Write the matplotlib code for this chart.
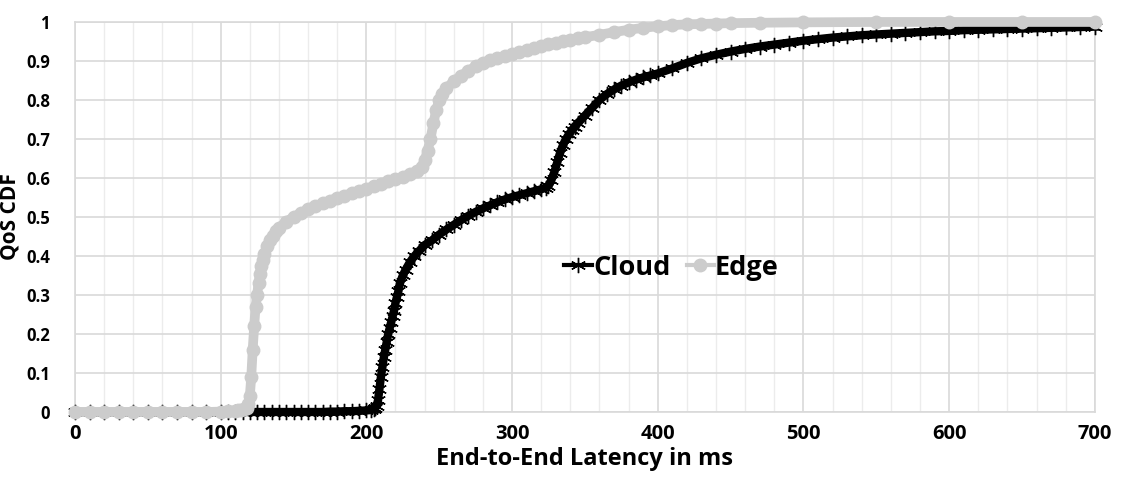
import matplotlib.pyplot as plt
from matplotlib.ticker import MultipleLocator

plt.rcParams['font.family'] = ['Open Sans', 'DejaVu Sans']
plt.rcParams['font.weight'] = 'bold'

# Cloud CDF (latency ms, cdf)
cloud_x = [0, 10, 20, 30, 40, 50, 60, 70, 80, 90, 100, 105, 110, 115, 120, 125, 130, 135, 140, 145,
           150, 155, 160, 165, 170, 175, 180, 185, 190, 195, 200, 203, 205, 206, 207, 208, 209, 210,
           211, 212, 213, 214, 215, 216, 217, 218, 219, 220, 221, 222, 223, 225, 227, 230, 233, 236,
           240, 245, 250, 255, 260, 265, 270, 275, 280, 285, 290, 295, 300, 305, 310, 315, 320, 323,
           325, 327, 329, 331, 333, 335, 337, 339, 341, 343, 345, 350, 355, 360, 365, 370, 375, 380,
           385, 390, 395, 400, 410, 420, 430, 440, 450, 460, 470, 480, 490, 500, 510, 520, 530, 540,
           550, 560, 570, 580, 590, 600, 610, 620, 630, 640, 650, 660, 670, 680, 690, 700]
cloud_y = [0, 0, 0, 0, 0, 0, 0, 0, 0, 0, 0, 0, 0, 0, 0, 0, 0, 0, 0, 0,
           0, 0, 0, 0, 0, 0.001, 0.001, 0.002, 0.002, 0.003, 0.004, 0.005, 0.007, 0.01, 0.015, 0.03, 0.06, 0.09,
           0.115, 0.14, 0.16, 0.18, 0.2, 0.215, 0.23, 0.245, 0.26, 0.28, 0.295, 0.31, 0.33, 0.35, 0.365, 0.385, 0.4, 0.412,
           0.428, 0.44, 0.455, 0.468, 0.48, 0.492, 0.503, 0.513, 0.522, 0.53, 0.538, 0.545, 0.551, 0.556, 0.561, 0.566, 0.571, 0.575,
           0.58, 0.595, 0.615, 0.64, 0.665, 0.685, 0.7, 0.712, 0.722, 0.731, 0.74, 0.76, 0.78, 0.8, 0.815, 0.827, 0.837, 0.845,
           0.852, 0.858, 0.863, 0.868, 0.881, 0.895, 0.907, 0.916, 0.924, 0.931, 0.937, 0.942, 0.947, 0.952, 0.956, 0.96, 0.963, 0.966,
           0.968, 0.97, 0.972, 0.974, 0.976, 0.977, 0.979, 0.98, 0.981, 0.982, 0.983, 0.984, 0.985, 0.986, 0.987, 0.988]

# Edge CDF
edge_x = [0, 10, 20, 30, 40, 50, 60, 70, 80, 90, 100, 105, 110, 112, 114, 116, 118, 119, 120, 121,
          122, 123, 124, 125, 126, 127, 128, 129, 130, 132, 134, 136, 138, 140, 145, 150, 155, 160, 165, 170,
          175, 180, 185, 190, 195, 200, 205, 210, 215, 220, 225, 230, 235, 238, 240, 242, 244, 246, 248, 250,
          252, 255, 260, 265, 270, 275, 280, 285, 290, 295, 300, 305, 310, 315, 320, 325, 330, 335, 340, 345,
          350, 360, 370, 380, 390, 400, 410, 420, 430, 440, 450, 470, 500, 550, 600, 650, 700]
edge_y = [0, 0, 0, 0, 0, 0, 0, 0, 0, 0, 0.001, 0.002, 0.003, 0.004, 0.005, 0.007, 0.01, 0.02, 0.04, 0.09,
          0.16, 0.22, 0.27, 0.3, 0.33, 0.355, 0.375, 0.39, 0.405, 0.425, 0.44, 0.452, 0.463, 0.472, 0.488, 0.5, 0.51, 0.52, 0.528, 0.535,
          0.542, 0.549, 0.555, 0.561, 0.567, 0.573, 0.579, 0.585, 0.591, 0.597, 0.603, 0.61, 0.618, 0.628, 0.645, 0.67, 0.7, 0.74, 0.775, 0.8,
          0.815, 0.83, 0.848, 0.862, 0.875, 0.886, 0.895, 0.902, 0.908, 0.913, 0.918, 0.923, 0.928, 0.933, 0.938, 0.943, 0.947, 0.951, 0.955, 0.958,
          0.961, 0.967, 0.974, 0.98, 0.985, 0.989, 0.992, 0.994, 0.995, 0.996, 0.997, 0.998, 0.999, 1.0, 1.0, 1.0, 1.0]

fig = plt.figure(figsize=(11.27, 4.83), dpi=100)
ax = fig.add_axes([0.0665, 0.147, 0.905, 0.8075])

ax.plot(cloud_x, cloud_y, color='black', lw=6, marker=(6, 2, 0), ms=11, mew=1,
        label='Cloud', zorder=3, clip_on=False)
ax.plot(edge_x, edge_y, color='#cccccc', lw=7, marker='o', ms=9, mec='#cccccc',
        label='Edge', zorder=4, clip_on=False)

ax.set_xlim(0, 700)
ax.set_ylim(0, 1)
ax.xaxis.set_major_locator(MultipleLocator(100))
ax.xaxis.set_minor_locator(MultipleLocator(20))
ax.set_yticks([i / 10 for i in range(11)])
ax.set_yticklabels(['0'] + ['0.%d' % i for i in range(1, 10)] + ['1'])

ax.grid(which='major', color='#d9d9d9', lw=1.2, zorder=0)
ax.grid(which='minor', axis='x', color='#ececec', lw=1.0, zorder=0)
ax.set_axisbelow(True)
for s in ax.spines.values():
    s.set_color('#d9d9d9')
    s.set_linewidth(1.2)

ax.tick_params(which='both', length=0)
ax.tick_params(axis='x', labelsize=14.5, pad=9)
ax.tick_params(axis='y', labelsize=12, pad=18)

ax.set_xlabel('End-to-End Latency in ms', fontsize=17, fontweight='bold', labelpad=2)
ax.set_ylabel('QoS CDF', fontsize=15, fontweight='bold', labelpad=4)

leg = ax.legend(loc='center', bbox_to_anchor=(0.585, 0.37), ncol=2, frameon=False,
                prop={'size': 19.5, 'weight': 'bold'}, handlelength=1.0, handletextpad=0.05,
                columnspacing=0.6)
for h in leg.legend_handles:
    h.set_linewidth(3)

fig.savefig('out.png', dpi=100)
